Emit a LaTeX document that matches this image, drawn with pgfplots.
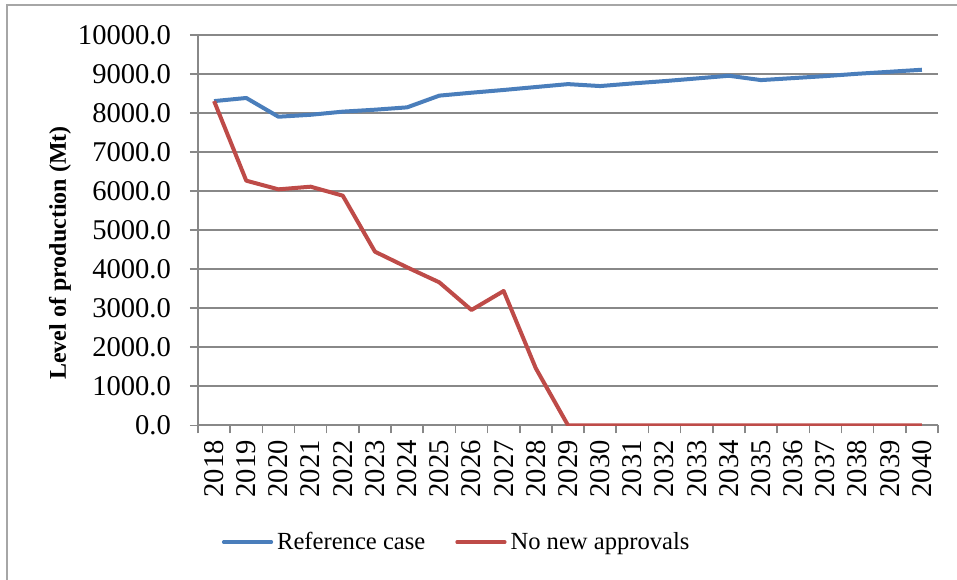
\documentclass[border=0pt]{standalone}
\usepackage{fontspec}
\setmainfont{Liberation Serif}
\usepackage{pgfplots}
\pgfplotsset{compat=1.18}
\definecolor{refblue}{HTML}{4A7EBB}
\definecolor{nored}{HTML}{BE4B48}
\definecolor{gridgray}{HTML}{888888}
\definecolor{bordergray}{HTML}{A6A6A6}
\begin{document}
\begin{tikzpicture}
\begin{axis}[
  at={(0,0)}, anchor=south west,
  scale only axis, width=370pt, height=195.3pt,
  xmin=-0.5, xmax=22.5, ymin=0, ymax=10000,
  xtick={0,...,22},
  xticklabels={2018,2019,2020,2021,2022,2023,2024,2025,2026,2027,2028,2029,2030,2031,2032,2033,2034,2035,2036,2037,2038,2039,2040},
  minor xtick={-0.5,0.5,...,22.5},
  major x tick style={draw=none},
  ytick={0,1000,...,10000},
  tick align=outside,
  major tick length=4pt, minor tick length=4pt,
  axis x line*=bottom, axis y line*=left,
  axis line style={gridgray, line width=0.8pt},
  every tick/.style={gridgray, line width=0.8pt},
  ymajorgrids,
  grid style={gridgray, line width=0.9pt},
  /pgf/number format/assume math mode=true,
  yticklabel style={/pgf/number format/fixed, /pgf/number format/fixed zerofill, /pgf/number format/precision=1, /pgf/number format/1000 sep={}, xshift=-6pt},
  ticklabel style={font=\fontsize{14.3}{16}\selectfont},
  xticklabel style={rotate=90, anchor=east},
  scaled y ticks=false,
  ylabel={\textbf{Level of production (Mt)}},
  ylabel style={font=\fontsize{12}{14}\selectfont, at={(axis description cs:-0.1865,0.441)}, rotate=0, anchor=center},
  legend style={at={(axis description cs:0.351,-0.299)}, anchor=center, draw=none, fill=none,
    legend columns=2, font=\fontsize{12.3}{14}\selectfont,
    /tikz/every even column/.append style={column sep=13pt}},
  legend cell align=left,
  legend image code/.code={\draw[#1, line width=1.6pt, line cap=round] (0pt,0pt) -- (24pt,0pt);},
]
\addplot[refblue, line width=2pt, line join=round] coordinates {
(0,8300) (1,8380) (2,7900) (3,7950) (4,8030) (5,8080) (6,8140) (7,8440) (8,8515) (9,8585) (10,8660) (11,8735)
(12,8685) (13,8752) (14,8812) (15,8880) (16,8949) (17,8838) (18,8889) (19,8940) (20,9000) (21,9051) (22,9103)};
\addlegendentry{Reference case}
\addplot[nored, line width=2pt, line join=round] coordinates {
(0,8300) (1,6263) (2,6041) (3,6109) (4,5879) (5,4445) (6,4044) (7,3660) (8,2952) (9,3439) (10,1459) (11,0)
(12,0) (13,0) (14,0) (15,0) (16,0) (17,0) (18,0) (19,0) (20,0) (21,0) (22,0)};
\addlegendentry{No new approvals}
\end{axis}
\draw[bordergray, line width=0.7pt] (-95.5pt,-80pt) -- (-95.5pt,210.15pt) -- (385pt,210.15pt);
\pgfresetboundingbox
\path[use as bounding box] (-99pt,-76.85pt) rectangle (379.5pt,212.65pt);
\end{tikzpicture}
\end{document}
